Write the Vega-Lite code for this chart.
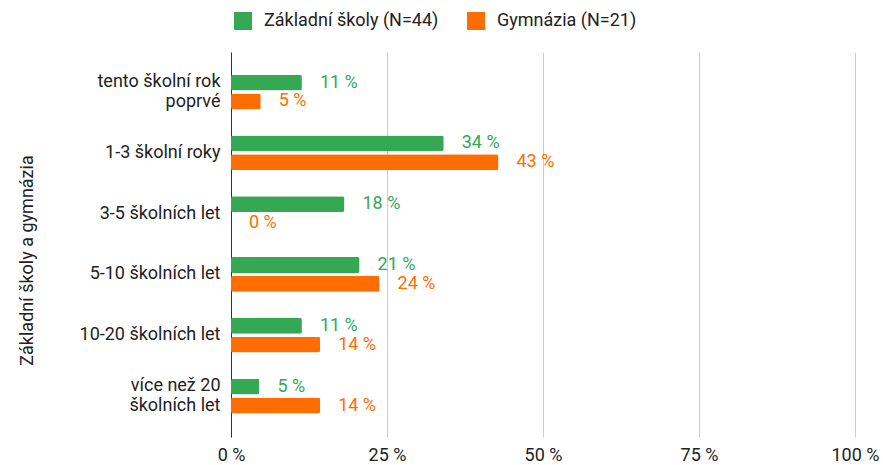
{
  "$schema": "https://vega.github.io/schema/vega-lite/v6.json",
  "autosize": {"type": "none"},
  "padding": {"left": 231, "top": 52, "right": 28, "bottom": 28},
  "width": 624,
  "height": 385,
  "background": "white",
  "config": {
    "font": "Roboto",
    "view": {"stroke": null}
  },
  "data": {
    "values": [
      {"kat": "tento školní rok|poprvé", "skupina": "Základní školy (N=44)", "hodnota": 11.36},
      {"kat": "tento školní rok|poprvé", "skupina": "Gymnázia (N=21)", "hodnota": 4.76},
      {"kat": "1-3 školní roky", "skupina": "Základní školy (N=44)", "hodnota": 34.09},
      {"kat": "1-3 školní roky", "skupina": "Gymnázia (N=21)", "hodnota": 42.86},
      {"kat": "3-5 školních let", "skupina": "Základní školy (N=44)", "hodnota": 18.18},
      {"kat": "3-5 školních let", "skupina": "Gymnázia (N=21)", "hodnota": 0},
      {"kat": "5-10 školních let", "skupina": "Základní školy (N=44)", "hodnota": 20.6},
      {"kat": "5-10 školních let", "skupina": "Gymnázia (N=21)", "hodnota": 23.81},
      {"kat": "10-20 školních let", "skupina": "Základní školy (N=44)", "hodnota": 11.36},
      {"kat": "10-20 školních let", "skupina": "Gymnázia (N=21)", "hodnota": 14.29},
      {"kat": "více než 20|školních let", "skupina": "Základní školy (N=44)", "hodnota": 4.55},
      {"kat": "více než 20|školních let", "skupina": "Gymnázia (N=21)", "hodnota": 14.29}
    ]
  },
  "transform": [
    {"calculate": "format(datum.hodnota, '.0f') + ' %'", "as": "popisek"}
  ],
  "encoding": {
    "y": {
      "field": "kat",
      "type": "nominal",
      "sort": null,
      "scale": {"paddingInner": 0.43, "paddingOuter": 0.38, "align": 0.49},
      "axis": {
        "title": "Základní školy a gymnázia",
        "titleFontSize": 18,
        "titleFontWeight": "normal",
        "titleColor": "#222222",
        "titleX": -204,
        "titleY": 208,
        "titleAngle": -90,
        "titleAlign": "center",
        "titleBaseline": "middle",
        "labelExpr": "split(datum.label, '|')",
        "labelFontSize": 18,
        "labelColor": "#222222",
        "labelLineHeight": 20,
        "labelPadding": 11,
        "labelOffset": {"condition": {"test": "indexof(datum.value, '|') >= 0", "value": -10}, "value": 0},
        "ticks": false,
        "domainColor": "#333333",
        "domainWidth": 1
      }
    },
    "yOffset": {
      "field": "skupina",
      "type": "nominal",
      "sort": ["Základní školy (N=44)", "Gymnázia (N=21)"],
      "scale": {"paddingInner": 0.16, "paddingOuter": 0}
    },
    "x": {
      "field": "hodnota",
      "type": "quantitative",
      "scale": {"domain": [0, 100], "nice": false},
      "axis": {
        "title": null,
        "values": [0, 25, 50, 75, 100],
        "labelExpr": "datum.value + ' %'",
        "labelFontSize": 18,
        "labelColor": "#222222",
        "labelPadding": 9,
        "labelFlush": false,
        "ticks": false,
        "domain": false,
        "gridColor": "#cccccc",
        "gridWidth": 1
      }
    },
    "color": {
      "field": "skupina",
      "type": "nominal",
      "sort": ["Základní školy (N=44)", "Gymnázia (N=21)"],
      "scale": {
        "domain": ["Základní školy (N=44)", "Gymnázia (N=21)"],
        "range": ["#34a853", "#ff6d01"]
      },
      "legend": {
        "title": null,
        "orient": "none",
        "direction": "horizontal",
        "legendX": 3,
        "legendY": -40,
        "symbolType": "square",
        "symbolSize": 324,
        "symbolStrokeWidth": 0,
        "labelFontSize": 18,
        "labelColor": "#222222",
        "labelOffset": 12,
        "labelLimit": 400,
        "columnPadding": 28
      }
    }
  },
  "layer": [
    {
      "mark": {"type": "bar", "cornerRadius": 2}
    },
    {
      "mark": {"type": "text", "align": "left", "baseline": "middle", "dx": 18, "fontSize": 18},
      "encoding": {
        "text": {"field": "popisek"}
      }
    }
  ]
}
